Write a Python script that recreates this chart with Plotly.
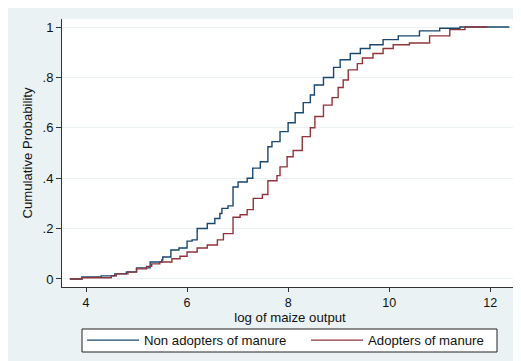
import plotly.graph_objects as go

non_x = [3.68, 3.92, 4.30, 4.57, 4.80, 5.00, 5.27, 5.50, 5.52, 5.68, 5.84, 6.00, 6.10, 6.20,
         6.40, 6.55, 6.65, 6.69, 6.81, 6.91, 7.01, 7.19, 7.30, 7.45, 7.60, 7.68, 7.84, 8.00,
         8.14, 8.30, 8.44, 8.52, 8.70, 8.90, 9.03, 9.23, 9.43, 9.62, 9.88, 10.18, 10.60,
         11.00, 11.40, 12.38]
non_y = [0.0, 0.008, 0.012, 0.02, 0.028, 0.044, 0.067, 0.075, 0.087, 0.115, 0.123, 0.15,
         0.155, 0.20, 0.22, 0.24, 0.26, 0.28, 0.29, 0.365, 0.385, 0.40, 0.44, 0.465, 0.525,
         0.545, 0.585, 0.62, 0.66, 0.70, 0.73, 0.77, 0.80, 0.84, 0.87, 0.895, 0.915, 0.93,
         0.95, 0.965, 0.985, 0.995, 1.0, 1.0]

adp_x = [3.68, 3.92, 4.50, 4.60, 4.83, 5.00, 5.20, 5.30, 5.46, 5.70, 5.86, 6.00, 6.20, 6.40,
         6.60, 6.72, 6.91, 7.05, 7.19, 7.31, 7.49, 7.60, 7.78, 7.84, 7.98, 8.10, 8.28, 8.44,
         8.53, 8.70, 8.87, 8.99, 9.09, 9.19, 9.37, 9.47, 9.68, 9.88, 10.08, 10.40, 10.80,
         11.20, 11.50, 11.94]
adp_y = [0.0, 0.005, 0.012, 0.02, 0.027, 0.04, 0.05, 0.06, 0.067, 0.08, 0.09, 0.107, 0.123,
         0.135, 0.155, 0.18, 0.245, 0.255, 0.275, 0.32, 0.335, 0.39, 0.41, 0.445, 0.485, 0.51,
         0.565, 0.60, 0.645, 0.69, 0.72, 0.76, 0.79, 0.83, 0.855, 0.877, 0.895, 0.915, 0.93,
         0.937, 0.965, 0.99, 1.0, 1.0]

x_ticks = [4, 6, 8, 10, 12]
y_ticks = [0, 0.2, 0.4, 0.6, 0.8, 1]
y_tick_text = ["0", ".2", ".4", ".6", ".8", "1"]

FONT = "Liberation Sans, Arial, sans-serif"
BG = "#EAF2F3"
# page has an 8px body margin; the figure itself is drawn at (8, 8)
W, H = 513, 353

fig = go.Figure()
fig.add_trace(go.Scatter(x=non_x, y=non_y, mode="lines", line_shape="hv",
                         line=dict(color="#1A476F", width=1.4), name="Non adopters of manure",
                         legend="legend"))
fig.add_trace(go.Scatter(x=adp_x, y=adp_y, mode="lines", line_shape="hv",
                         line=dict(color="#90353B", width=1.4), name="Adopters of manure",
                         legend="legend2"))

# plot area in figure pixels
L, R, T, B = 54, 510, 11, 279
def px(xp):
    return (xp - L) / (R - L)
def py(yp):
    return (B - yp) / (B - T)

# legend frame
fig.add_shape(type="rect", xref="paper", yref="paper", x0=px(74), x1=px(489), y0=py(321), y1=py(344),
              fillcolor="white", line=dict(color="#222", width=1), layer="below")

leg_common = dict(orientation="h", xref="container", yref="container", xanchor="left",
                  yanchor="middle", y=1 - 332.5 / H, bgcolor="rgba(0,0,0,0)", borderwidth=0,
                  font=dict(size=13.2, family=FONT, color="#111"), itemwidth=52)

fig.update_layout(
    width=W, height=H,
    margin=dict(l=L, r=W - R, t=T, b=H - B, autoexpand=False),
    paper_bgcolor=BG, plot_bgcolor="white",
    font=dict(family=FONT, size=13, color="#111"),
    showlegend=True,
    legend=dict(x=74 / W, **leg_common),
    legend2=dict(x=298 / W, **leg_common),
)
fig.update_xaxes(range=[3.525, 12.55], tickvals=x_ticks, showgrid=False, zeroline=False,
                 showline=True, linecolor="#333", linewidth=1, ticks="outside", ticklen=4,
                 tickcolor="#333", title=dict(text="log of maize output", standoff=3,
                                              font=dict(size=13.2)),
                 tickfont=dict(size=12.5))
fig.update_yaxes(range=[-0.032, 1.032], tickvals=y_ticks, ticktext=y_tick_text,
                 showgrid=True, gridcolor=BG, gridwidth=1, zeroline=False,
                 showline=True, linecolor="#333", linewidth=1, ticks="outside", ticklen=5,
                 tickcolor="#333", title=dict(text="Cumulative Probability", standoff=6,
                                              font=dict(size=13.2)),
                 tickfont=dict(size=13))

fig.write_html("out.html")
